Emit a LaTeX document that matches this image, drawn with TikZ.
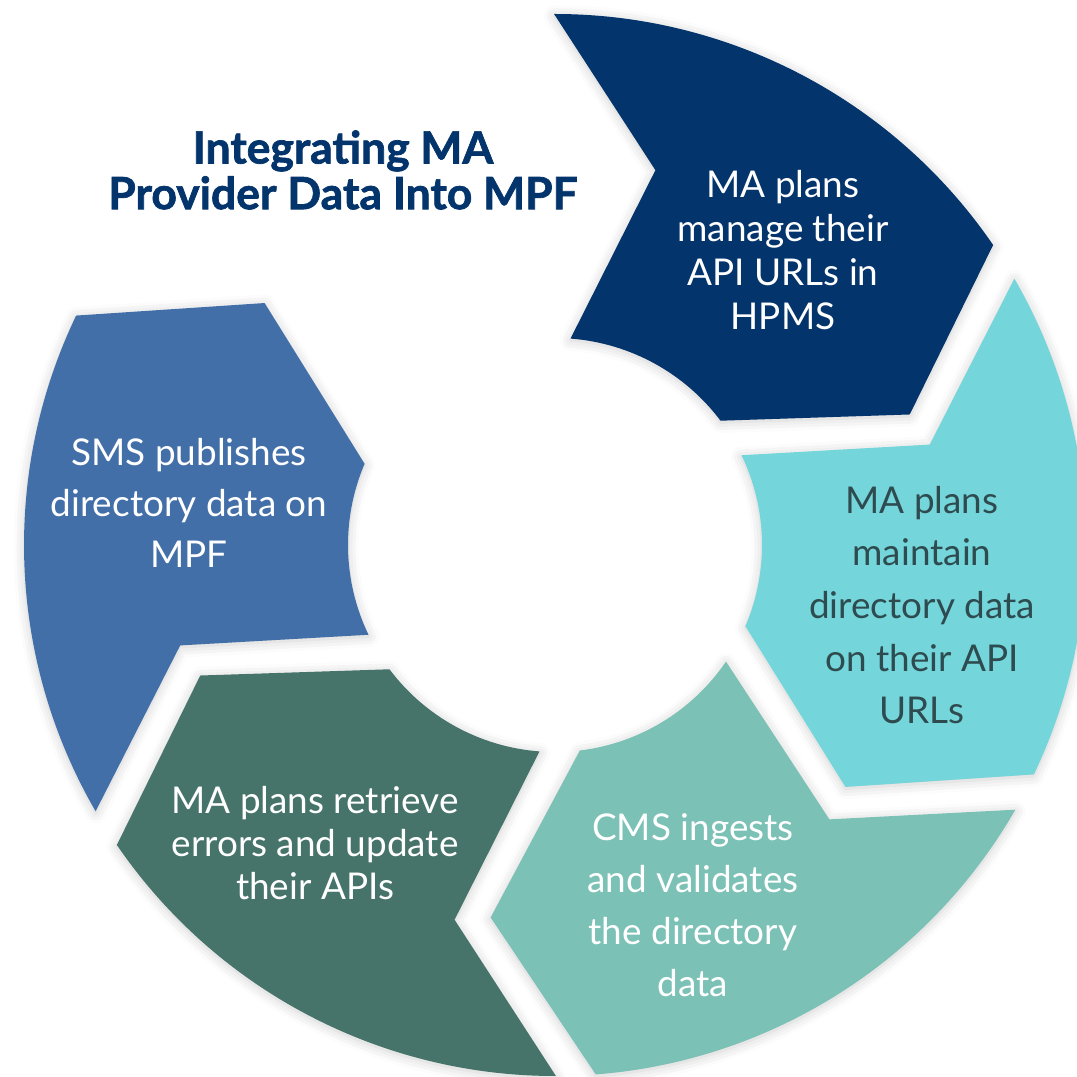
\documentclass[tikz,border=0pt]{standalone}
\usepackage{fontspec}
\setmainfont{Lato}
\newfontfamily\heavyfont{Lato}[BoldFeatures={FakeBold=1.6}]
\usetikzlibrary{shadows.blur}

\definecolor{navyseg}{HTML}{03346B}
\definecolor{cyanseg}{HTML}{74D6DA}
\definecolor{tealseg}{HTML}{7BC1B6}
\definecolor{greenseg}{HTML}{46746A}
\definecolor{blueseg}{HTML}{436FA9}
\definecolor{cyantext}{HTML}{2E4B50}

\tikzset{
  segshadow/.style={blur shadow={shadow xshift=0pt, shadow yshift=-1pt,
      shadow blur radius=6pt, shadow opacity=20}},
  seglabel/.style={align=center, text=white},
  titletext/.style={align=center, text=navyseg,
      font=\heavyfont\bfseries\fontsize{25.3}{26}\selectfont},
}

\begin{document}
\begin{tikzpicture}[x=0.02cm,y=0.02cm]
  \useasboundingbox (-555,-532) rectangle (522,545);
  \clip (-555,-532) rectangle (522,545);

  % Ring segments: leading angle / colour (one slot left free for the title)
  \foreach \lead/\col in {34.4/navyseg, -25.6/cyanseg, -85.6/tealseg,
                          -145.6/greenseg, -205.6/blueseg}{
    \pgfmathsetmacro\trail{\lead+60}
    \fill[\col, segshadow]
      ({\trail-4.3}:531) arc[start angle=\trail-4.3, end angle=\lead, radius=531]
      -- ({\lead-14.2}:378) -- ({\lead+2.5}:207)
      arc[start angle=\lead+2.5, end angle=\trail-8.7, radius=207]
      -- ({\trail-19.4}:388) -- cycle;
  }

  % Title
  \node[titletext] (title) at (-212,375) {Integrating MA\\Provider Data Into MPF};

  % Step labels
  \node[seglabel, font=\fontsize{21}{25}\selectfont] (hpms) at (228,295)
    {MA plans\\manage their\\API URLs in\\HPMS};
  \node[seglabel, text=cyantext, font=\fontsize{21}{30}\selectfont] (maintain) at (367,-60)
    {MA plans\\maintain\\directory data\\on their API\\URLs};
  \node[seglabel, font=\fontsize{21}{29.5}\selectfont] (ingest) at (138,-360)
    {CMS ingests\\and validates\\the directory\\data};
  \node[seglabel, font=\fontsize{21}{24.5}\selectfont] (retrieve) at (-240,-298)
    {MA plans retrieve\\errors and update\\their APIs};
  \node[seglabel, font=\fontsize{21}{29}\selectfont] (publish) at (-366,42)
    {SMS publishes\\directory data on\\MPF};
\end{tikzpicture}
\end{document}
